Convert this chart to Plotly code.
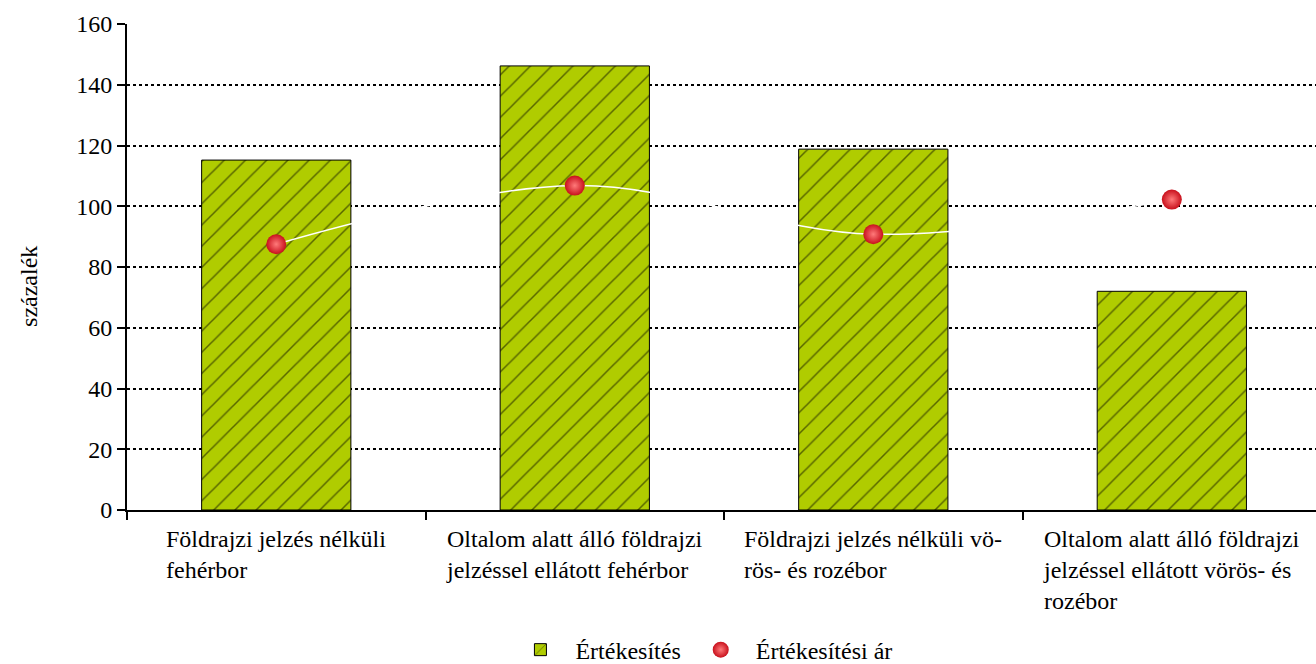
import plotly.graph_objects as go

categories = [
    "Földrajzi jelzés nélküli<br>fehérbor",
    "Oltalom alatt álló földrajzi<br>jelzéssel ellátott fehérbor",
    "Földrajzi jelzés nélküli vö-<br>rös- és rozébor",
    "Oltalom alatt álló földrajzi<br>jelzéssel ellátott vörös- és<br>rozébor",
]
sales = [115.2, 146.2, 118.8, 72.0]
price = [87.5, 106.8, 90.8, 102.2]
y_ticks = [0, 20, 40, 60, 80, 100, 120, 140, 160]
series_names = ["Értékesítés", "Értékesítési ár"]

FONT = "Liberation Serif"
FS = 24
xpos = [i + 0.5 for i in range(len(categories))]
boundaries = list(range(len(categories) + 1))

fig = go.Figure()
fig.add_trace(go.Bar(
    x=xpos, y=sales, width=0.5, name=series_names[0],
    marker=dict(color="#B0CC00", line=dict(color="black", width=1),
                pattern=dict(shape="/", fgcolor="black", bgcolor="#B0CC00",
                             size=15, solidity=0.1)),
))
fig.add_trace(go.Scatter(
    x=xpos, y=price, name=series_names[1], mode="lines+markers",
    line=dict(color="white", width=1.5, shape="spline"),
    marker=dict(size=20, color="#c8101c",
                gradient=dict(type="radial", color="#ff7a7a"),
                line=dict(width=0)),
))

for x, label in zip(xpos, categories):
    fig.add_annotation(x=x, xref="x", y=-0.028, yref="paper", text=label,
                       showarrow=False, xanchor="center", yanchor="top",
                       align="left", font=dict(family=FONT, size=FS, color="black"))

fig.add_annotation(x=-0.082, xref="paper", y=0.46, yref="paper", text="százalék",
                   showarrow=False, textangle=-90, xanchor="center",
                   font=dict(family=FONT, size=FS, color="black"))

fig.update_layout(
    width=1316, height=664,
    margin=dict(l=127, r=0, t=24, b=154),
    plot_bgcolor="white", paper_bgcolor="white",
    font=dict(family=FONT, size=FS, color="black"),
    showlegend=True,
    legend=dict(orientation="h", xref="container", yref="container",
                x=0.533, xanchor="center", y=0.021, yanchor="middle",
                font=dict(family=FONT, size=FS), itemwidth=60,
                tracegroupgap=0),
    xaxis=dict(range=[0, 3.983], tickvals=boundaries, showticklabels=False,
               ticks="outside", ticklen=8, tickwidth=2, tickcolor="black",
               showline=True, linecolor="black", linewidth=2, showgrid=False,
               zeroline=False),
    yaxis=dict(range=[0, 160], tickvals=y_ticks, ticks="outside", ticklen=8,
               tickwidth=2, tickcolor="black", showline=True, linecolor="black",
               linewidth=2, showgrid=True, gridcolor="black", gridwidth=1.5,
               griddash="3px,3px", zeroline=False,
               tickfont=dict(family=FONT, size=FS, color="black")),
)

fig.write_html("out.html", config={"displayModeBar": False},
               post_script="document.body.style.margin='0';")
